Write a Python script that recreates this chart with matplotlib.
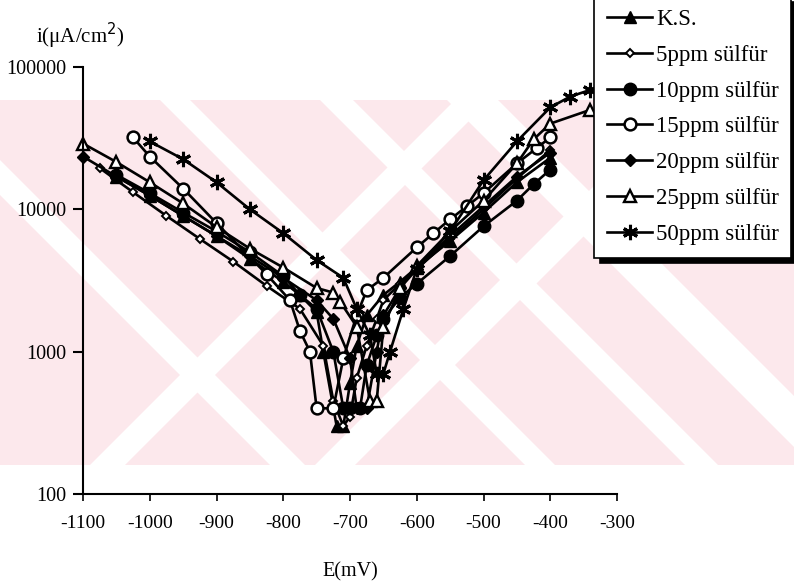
import matplotlib.pyplot as plt
from matplotlib.patches import Polygon, Rectangle

# veriler (E in mV, i in uA/cm2)
ks_E = [-1050, -1000, -950, -900, -850, -800, -775, -750, -740, -720, -710, -700, -690, -675, -650, -625, -600, -550, -500, -450, -400]
ks_i = [17000, 12500, 9000, 6500, 4500, 3100, 2500, 1900, 1000, 300, 300, 600, 1100, 1800, 2500, 3100, 3900, 6000, 9500, 15500, 23000]

p5_E = [-1075, -1025, -975, -925, -875, -825, -775, -740, -725, -710, -700, -690, -675, -660, -650, -625, -600, -550, -500, -450, -400]
p5_i = [19500, 13200, 9000, 6200, 4300, 2900, 2000, 1100, 450, 300, 350, 650, 1100, 1700, 2300, 3000, 3800, 6200, 10000, 16500, 26000]

p10_E = [-1050, -1000, -950, -900, -850, -800, -775, -750, -725, -710, -700, -685, -675, -660, -650, -625, -600, -550, -500, -450, -425, -400]
p10_i = [17500, 13000, 9500, 7000, 5000, 3400, 2500, 2000, 1000, 400, 400, 400, 800, 1300, 1700, 2400, 3000, 4700, 7600, 11500, 15000, 19000]

p15_E = [-1025, -1000, -950, -900, -825, -790, -775, -760, -750, -725, -710, -690, -675, -650, -600, -575, -550, -525, -500, -450, -420, -400]
p15_i = [32000, 23500, 14000, 8000, 3500, 2300, 1400, 1000, 400, 400, 900, 1800, 2700, 3300, 5400, 6800, 8500, 10500, 13000, 21000, 27000, 32000]

p20_E = [-1100, -1050, -1000, -950, -900, -850, -800, -750, -725, -700, -690, -675, -660, -650, -625, -600, -550, -500, -450, -400]
p20_i = [23500, 17000, 12500, 9000, 6500, 4700, 3300, 2300, 1700, 900, 400, 400, 1000, 1800, 2800, 3800, 6500, 10500, 17000, 25000]

p25_E = [-1100, -1050, -1000, -950, -900, -850, -800, -750, -725, -715, -690, -670, -660, -650, -625, -600, -550, -500, -450, -425, -400, -340]
p25_i = [29000, 21500, 15500, 11000, 7500, 5300, 3900, 2800, 2600, 2250, 1500, 450, 450, 1500, 2800, 4000, 7000, 11500, 21000, 31000, 40000, 50000]

p50_E = [-1000, -950, -900, -850, -800, -750, -710, -690, -670, -660, -650, -640, -620, -600, -550, -500, -450, -400, -370, -340]
p50_i = [30000, 22500, 15500, 10000, 6800, 4400, 3300, 2000, 1300, 700, 700, 1000, 2000, 3800, 7000, 16000, 30000, 52000, 62000, 69000]

labels = ['K.S.', '5ppm sülfür', '10ppm sülfür', '15ppm sülfür', '20ppm sülfür', '25ppm sülfür', '50ppm sülfür']

plt.rcParams['font.family'] = ['Liberation Serif', 'DejaVu Serif']
plt.rcParams['axes.unicode_minus'] = False

fig = plt.figure(figsize=(7.94, 5.87), dpi=100)
W, H = 794.0, 587.0


def px(x, y):
    return (x / W, 1 - y / H)


# arka plandaki soluk filigran (pembe bant + beyaz çapraz şeritler)
fig.patches.append(Rectangle(px(0, 465), 1, 365 / H, transform=fig.transFigure,
                             facecolor='#fce8ec', edgecolor='none', zorder=-2))
y0, y1 = 100, 465
back = [(160, 195), (-90, -60), (-253, -220), (-398, -347)]   # y - x
fwd = [(555, 590), (780, 820)]                                 # x + y
polys = []
for a, b in back:
    polys.append([(y0 - b, y0), (y0 - a, y0), (y1 - a, y1), (y1 - b, y1)])
for a, b in fwd:
    polys.append([(a - y0, y0), (b - y0, y0), (b - y1, y1), (a - y1, y1)])
for s in polys:
    fig.patches.append(Polygon([px(u, v) for u, v in s], closed=True, transform=fig.transFigure,
                               facecolor='white', edgecolor='none', zorder=-1))

ax = fig.add_axes([83 / W, 93 / H, 534 / W, 427 / H])
ax.set_facecolor('none')
ax.set_zorder(1)

common = dict(color='black', linewidth=1.9, clip_on=False)
ax.plot(ks_E, ks_i, marker='^', markersize=8.5, markerfacecolor='black', label=labels[0], **common)
ax.plot(p5_E, p5_i, marker='D', markersize=4.5, markerfacecolor='white', markeredgewidth=1.4, label=labels[1], **common)
ax.plot(p10_E, p10_i, marker='o', markersize=9, markerfacecolor='black', label=labels[2], **common)
ax.plot(p15_E, p15_i, marker='o', markersize=8.5, markerfacecolor='white', markeredgewidth=1.8, label=labels[3], **common)
ax.plot(p20_E, p20_i, marker='D', markersize=6.5, markerfacecolor='black', label=labels[4], **common)
ax.plot(p25_E, p25_i, marker='^', markersize=9, markerfacecolor='white', markeredgewidth=1.7, label=labels[5], **common)
ax.plot(p50_E, p50_i, marker=(6, 2, 0), markersize=11, markeredgewidth=2.2, label=labels[6], **common)

ax.set_yscale('log')
ax.set_xlim(-1100, -300)
ax.set_ylim(100, 100000)
ax.set_xticks(range(-1100, -299, 100))
ax.set_yticks([100, 1000, 10000, 100000])
ax.set_yticklabels(['100', '1000', '10000', '100000'])
ax.yaxis.set_minor_locator(plt.NullLocator())

for side in ['top', 'right']:
    ax.spines[side].set_visible(False)
for side in ['left', 'bottom']:
    ax.spines[side].set_linewidth(1.5)
ax.tick_params(axis='y', direction='out', length=7, width=1.5, pad=5, labelsize=14.5)
ax.tick_params(axis='x', direction='out', length=5, width=1.2, pad=10, labelsize=14)

fig.text(80 / W, 1 - 36 / H, 'i(μA/cm$^2$)', ha='center', va='center', fontsize=15)
fig.text(350 / W, 1 - 572 / H, 'E(mV)', ha='center', va='center', fontsize=14.5)

leg = fig.legend(loc='upper left', bbox_to_anchor=(594 / W, 1 + 4 / H), borderaxespad=0,
                 fontsize=16.5, handlelength=2.0, handletextpad=0.15, borderpad=0.55,
                 labelspacing=0.65, fancybox=False, framealpha=1, edgecolor='black',
                 shadow={'ox': 4, 'oy': -4, 'facecolor': 'black', 'edgecolor': 'black', 'alpha': 1})
leg.get_frame().set_linewidth(1.2)
leg.set_zorder(5)

fig.savefig('out.png', dpi=100)
